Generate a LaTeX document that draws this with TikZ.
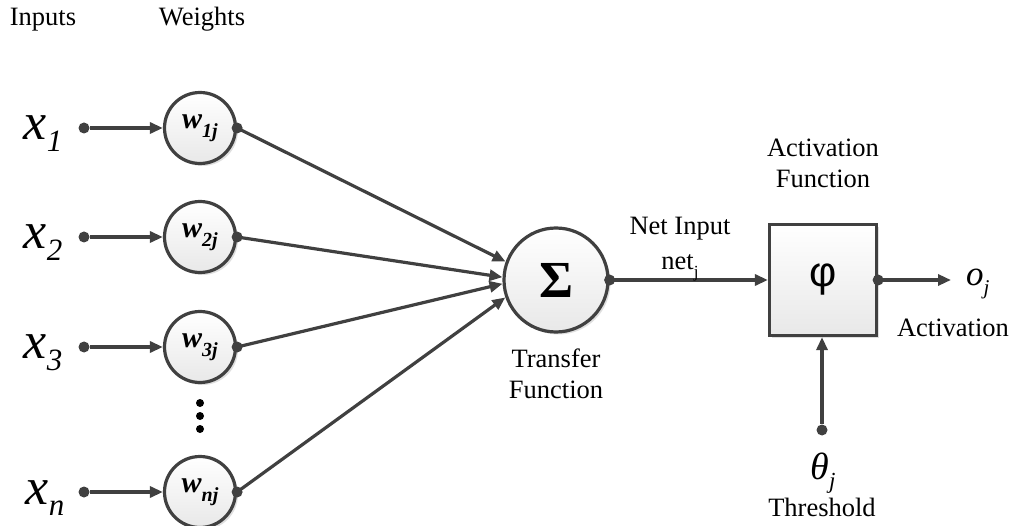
\documentclass[tikz,border=0pt]{standalone}
\usepackage{fontspec}
\setmainfont{Liberation Serif}
\newfontfamily\sansphi{Liberation Sans}
\usetikzlibrary{arrows.meta,shadows}
\definecolor{ln}{HTML}{404040}
\newcommand\lowsub[3]{\raisebox{-#1}{\fontsize{#2}{#2}\selectfont #3}}
\tikzset{
  wire/.style={draw=ln, line width=3.2pt},
  arr/.style={wire, -{Triangle[length=13pt,width=11pt]}},
  dotn/.style={circle, fill=ln, inner sep=0pt, minimum size=11pt},
  vdot/.style={circle, fill=black, inner sep=0pt, minimum size=8pt},
  shade3/.style={top color=white, bottom color=black!9,
    drop shadow={shadow xshift=2.5pt,shadow yshift=-2.5pt,fill=black!25,opacity=0.5}},
  wcirc/.style={circle, draw=ln, line width=3.2pt, shade3, minimum size=71pt, inner sep=0pt,
    font=\fontsize{30}{30}\selectfont\bfseries\itshape},
  lbl/.style={font=\fontsize{26.5}{31}\selectfont, inner sep=0pt, align=center, anchor=base},
  xl/.style={font=\fontsize{52}{52}\selectfont\itshape, inner sep=0pt, anchor=base},
}
\begin{document}
\begin{tikzpicture}[x=1pt,y=-1pt]
\useasboundingbox (0,0) rectangle (1014,526);

% headers
\node[lbl] (hin) at (43,26) {Inputs};
\node[lbl] (hw) at (202,26) {Weights};

% input labels
\node[xl] (lx1) at (43,140) {x\lowsub{0.22em}{31}{1}};
\node[xl] (lx2) at (43,249) {x\lowsub{0.22em}{31}{2}};
\node[xl] (lx3) at (43,359) {x\lowsub{0.22em}{31}{3}};
\node[xl] (lxn) at (45,504) {x\lowsub{0.22em}{31}{n}};

% input dots
\node[dotn] (d1) at (84,128) {};
\node[dotn] (d2) at (84,237) {};
\node[dotn] (d3) at (84,347) {};
\node[dotn] (dn) at (84,492) {};

% weight circles
\node[wcirc] (w1) at (200,128) {w\lowsub{0.3em}{20}{1j}};
\node[wcirc] (w2) at (200,237) {w\lowsub{0.3em}{20}{2j}};
\node[wcirc] (w3) at (200,347) {w\lowsub{0.3em}{20}{3j}};
\node[wcirc] (wn) at (200,492) {w\lowsub{0.3em}{20}{nj}};

% vertical dots
\node[vdot] (v1) at (200,403) {};
\node[vdot] (v2) at (200,416) {};
\node[vdot] (v3) at (200,429) {};

\draw[arr] (d1) -- (w1);
\draw[arr] (d2) -- (w2);
\draw[arr] (d3) -- (w3);
\draw[arr] (dn) -- (wn);

% summation
\node[circle, draw=ln, line width=3.2pt, shade3, minimum size=104pt, inner sep=0pt,
      font=\fontsize{52}{52}\selectfont\bfseries] (s) at (556,280) {Σ};

\draw[arr] (w1.east) -- (s.160);
\draw[arr] (w2.east) -- (s.177);
\draw[arr] (w3.east) -- (s.184);
\draw[arr] (wn.east) -- (s.199);

\node[dotn] (w1e) at (w1.east) {};
\node[dotn] (w2e) at (w2.east) {};
\node[dotn] (w3e) at (w3.east) {};
\node[dotn] (wne) at (wn.east) {};

\node[lbl] (tf1) at (556,367) {Transfer};
\node[lbl] (tf2) at (556,398) {Function};

% activation box
\node[rectangle, draw=ln, line width=3.2pt, shade3, minimum width=107pt, minimum height=111pt,
      inner sep=0pt, font=\fontsize{42}{42}\sansphi] (b) at (823,280) {φ};

\draw[arr] (s.east) -- (b.west);
\node[dotn] (se) at (s.east) {};

\node[lbl] (ni) at (680,235) {Net Input};
\node[lbl] (nn) at (680,270) {net\lowsub{0.3em}{17}{j}};

\node[lbl] (af1) at (823,157) {Activation};
\node[lbl] (af2) at (823,188) {Function};

% output
\node[inner sep=0pt, anchor=base west, font=\fontsize{35}{35}\selectfont\itshape] (oj) at (966,286) {o\lowsub{0.25em}{21}{j}};
\coordinate (oe) at (951,280);
\draw[arr] (b.east) -- (oe);
\node[dotn] (be) at (b.east) {};
\node[lbl] (act) at (953,337) {Activation};

% threshold
\node[dotn] (td) at (822,430) {};
\draw[arr] (td) -- (b.south -| td);
\node[inner sep=0pt, anchor=base, font=\fontsize{38}{38}\selectfont\itshape] (th) at (823,479) {θ\lowsub{0.25em}{23}{j}};
\node[lbl] (thl) at (822,516) {Threshold};
\end{tikzpicture}
\end{document}
